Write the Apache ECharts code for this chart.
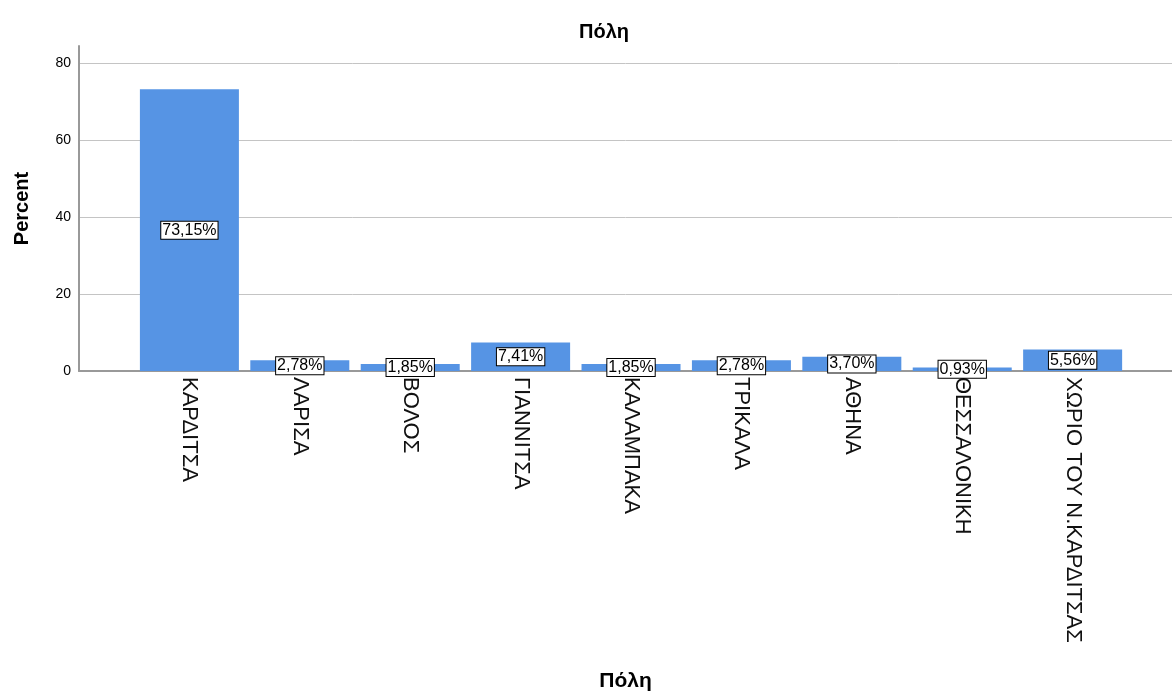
<!DOCTYPE html>
<html>
<head>
<meta charset="utf-8">
<script src="https://cdn.jsdelivr.net/npm/echarts@6/dist/echarts.min.js"></script>
<style>html,body{margin:0;padding:0;background:#fff}#c{width:1172px;height:693px}</style>
</head>
<body>
<div id="c"></div>
<script>
const categories = ['ΚΑΡΔΙΤΣΑ','ΛΑΡΙΣΑ','ΒΟΛΟΣ','ΓΙΑΝΝΙΤΣΑ','ΚΑΛΑΜΠΑΚΑ','ΤΡΙΚΑΛΑ','ΑΘΗΝΑ','ΘΕΣΣΑΛΟΝΙΚΗ','ΧΩΡΙΟ ΤΟΥ Ν.ΚΑΡΔΙΤΣΑΣ'];
const percents = [73.15, 2.78, 1.85, 7.41, 1.85, 2.78, 3.70, 0.93, 5.56];
const yTicks = [0, 20, 40, 60, 80];
const chartTitle = 'Πόλη';
const xTitle = 'Πόλη';
const yTitle = 'Percent';

const FONT = '"Liberation Sans", Arial, sans-serif';
const chart = echarts.init(document.getElementById('c'));
chart.setOption({
  animation: false,
  backgroundColor: '#ffffff',
  title: {
    text: chartTitle,
    left: 599, top: 17, textAlign: 'center',
    textStyle: {fontFamily: FONT, fontSize: 20, fontWeight: 'bold', color: '#000'}
  },
  grid: {left: 79, right: 0, top: 46, bottom: 320},
  xAxis: {
    type: 'value', min: -1, max: 8.9, interval: 1,
    name: xTitle, nameLocation: 'middle', nameGap: 300,
    nameTextStyle: {fontFamily: FONT, fontSize: 21, fontWeight: 'bold', color: '#000'},
    axisLine: {show: true, onZero: true, lineStyle: {color: '#999', width: 2}},
    axisTick: {show: false},
    splitLine: {show: false},
    axisLabel: {
      rotate: -90, margin: 6, fontFamily: FONT, fontSize: 22, color: '#111',
      showMaxLabel: false, showMinLabel: false,
      formatter: v => (Number.isInteger(v) && categories[v] !== undefined) ? categories[v] : ''
    }
  },
  yAxis: {
    type: 'value', min: 0, max: 84.4, interval: 20,
    name: yTitle, nameLocation: 'middle', nameGap: 47, nameRotate: 90,
    nameTextStyle: {fontFamily: FONT, fontSize: 20, fontWeight: 'bold', color: '#000'},
    axisLine: {show: true, onZero: false, lineStyle: {color: '#999', width: 2}},
    axisTick: {show: false},
    splitLine: {show: true, showMaxLine: false, showMinLine: false, lineStyle: {color: '#c4c4c4', width: 1}},
    axisLabel: {
      margin: 8, fontFamily: FONT, fontSize: 14, color: '#000', showMaxLabel: false,
      formatter: v => yTicks.includes(v) ? String(v) : ''
    }
  },
  series: [{
    type: 'bar',
    barWidth: 99,
    data: categories.map((c, i) => [i, percents[i]]),
    itemStyle: {color: '#5694e4'},
    label: {
      show: true, position: 'inside',
      formatter: p => p.value[1].toFixed(2).replace('.', ',') + '%',
      fontFamily: FONT, fontSize: 16, color: '#000',
      backgroundColor: '#fff', borderColor: '#000', borderWidth: 1, padding: [1, 1, 0, 1]
    }
  }]
});
</script>
</body>
</html>
